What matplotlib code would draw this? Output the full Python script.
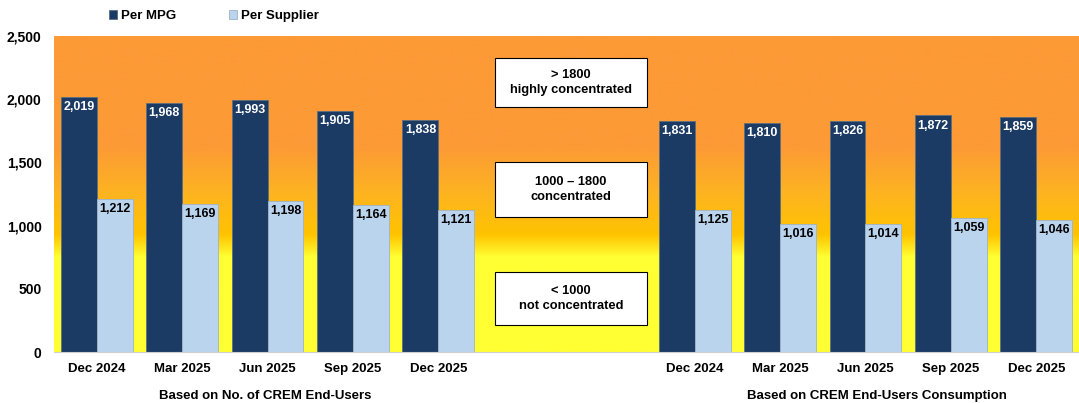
import numpy as np
import matplotlib.pyplot as plt
from matplotlib.colors import LinearSegmentedColormap
from matplotlib.patches import Rectangle

plt.rcParams['font.family'] = ['Liberation Sans', 'DejaVu Sans']
plt.rcParams['font.weight'] = 'bold'

# data
periods = ['Dec 2024', 'Mar 2025', 'Jun 2025', 'Sep 2025', 'Dec 2025']
users_mpg = [2019, 1968, 1993, 1905, 1838]
users_supplier = [1212, 1169, 1198, 1164, 1121]
cons_mpg = [1831, 1810, 1826, 1872, 1859]
cons_supplier = [1125, 1016, 1014, 1059, 1046]
group_titles = ['Based on No. of CREM End-Users', 'Based on CREM End-Users Consumption']
bands = ['> 1800\nhighly concentrated', '1000 \u2013 1800\nconcentrated', '< 1000\nnot concentrated']

DARK = '#1B3A64'
LIGHT = '#BAD4EE'

fig = plt.figure(figsize=(10.79, 4.03), dpi=100)
ax = fig.add_axes([54 / 1079, 1 - 352 / 403, 1025 / 1079, 316 / 403])

n_slots = 12
x_left = np.arange(5)
x_right = np.arange(7, 12)
xs = np.concatenate([x_left, x_right])
mpg = users_mpg + cons_mpg
sup = users_supplier + cons_supplier
labels = periods + periods

# background gradient (orange -> gold -> yellow)
cmap = LinearSegmentedColormap.from_list('bg', [
    (0.0, '#FFFF33'), (0.30, '#FFFF33'), (0.37, '#FFC300'),
    (0.50, '#FDB420'), (0.65, '#FC9A36'), (1.0, '#FC9A36')])
grad = np.linspace(0, 1, 500).reshape(-1, 1)
ax.imshow(grad, aspect='auto', cmap=cmap, origin='lower',
          extent=[-0.5, n_slots - 0.5, 0, 2500], zorder=0)

w = 0.42
b1 = ax.bar(xs - w / 2, mpg, w, color=DARK, edgecolor='#5A6E80', linewidth=0.6, zorder=2)
b2 = ax.bar(xs + w / 2, sup, w, color=LIGHT, edgecolor='#9FB3C6', linewidth=0.6, zorder=2)

for rect, v in zip(b1, mpg):
    ax.annotate(f'{v:,}', (rect.get_x() + rect.get_width() / 2, v), xytext=(0, -3),
                textcoords='offset points', ha='center', va='top',
                color='white', fontsize=9, fontweight='bold', zorder=3)
for rect, v in zip(b2, sup):
    ax.annotate(f'{v:,}', (rect.get_x() + rect.get_width() / 2, v), xytext=(0, -3),
                textcoords='offset points', ha='center', va='top',
                color='black', fontsize=9, fontweight='bold', zorder=3)

# band boxes in the gap between the groups
box_x0, box_x1 = 4.66, 6.44
box_y = [(1938, 2326), (1068, 1503), (214, 633)]
for txt, (y0, y1) in zip(bands, box_y):
    ax.add_patch(Rectangle((box_x0, y0), box_x1 - box_x0, y1 - y0, facecolor='white',
                           edgecolor='black', linewidth=0.8, zorder=4))
    ax.text((box_x0 + box_x1) / 2, (y0 + y1) / 2, txt, ha='center', va='center',
            fontsize=9.3, fontweight='bold', linespacing=1.3, zorder=5)

ax.set_xlim(-0.5, n_slots - 0.5)
ax.set_ylim(0, 2500)
ax.set_yticks(np.arange(0, 2501, 500))
ax.set_yticklabels([f'{t:,}' for t in range(0, 2501, 500)], fontsize=10, fontweight='bold')
ax.set_xticks(xs)
ax.set_xticklabels(labels, fontsize=9.5, fontweight='bold')
ax.tick_params(length=0, pad=8)
ax.tick_params(axis='y', pad=9)
for s in ['top', 'right', 'left']:
    ax.spines[s].set_visible(False)
ax.spines['bottom'].set_color('#D0D0D0')

fig.text(265 / 1079, 1 - 396 / 403, group_titles[0], ha='center', va='center',
         fontsize=9.5, fontweight='bold')
fig.text(877 / 1079, 1 - 396 / 403, group_titles[1], ha='center', va='center',
         fontsize=9.5, fontweight='bold')

leg = fig.legend([b1, b2], ['Per MPG', 'Per Supplier'], loc='center', ncol=2,
                 bbox_to_anchor=(214 / 1079, 1 - 16 / 403), frameon=False,
                 fontsize=9.5, handlelength=0.6, handleheight=0.6, handletextpad=0.3,
                 columnspacing=4.0)

fig.savefig('out.png', dpi=100)
